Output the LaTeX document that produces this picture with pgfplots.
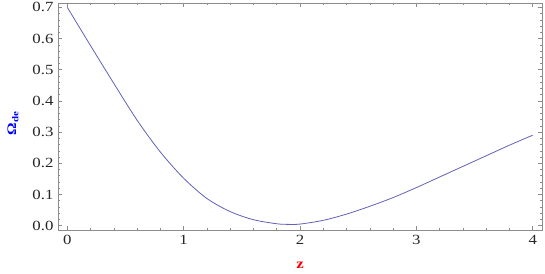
\documentclass[border=0pt]{standalone}
\usepackage{fontspec}
\setmainfont{Liberation Serif}[FakeStretch=1.2]
\usepackage{pgfplots}
\pgfplotsset{compat=1.18}
\definecolor{framegray}{rgb}{0.55,0.55,0.55}
\definecolor{curve}{rgb}{0.38,0.38,0.72}
\begin{document}
\begin{tikzpicture}
\path[use as bounding box] (-58pt,-43pt) rectangle (487pt,230pt);
\begin{axis}[
  scale only axis,
  width=484pt, height=227pt,
  xmin=-0.08, xmax=4.08,
  ymin=-0.014, ymax=0.714,
  axis line style={framegray, line width=0.6pt},
  xtick={0,1,2,3,4},
  ytick={0,0.1,0.2,0.3,0.4,0.5,0.6,0.7},
  minor x tick num=4,
  minor y tick num=4,
  tick style={framegray, line width=0.5pt},
  major tick length=4pt,
  minor tick length=2pt,
  tick align=inside,
  xtick pos=both, ytick pos=both,
  xticklabel pos=lower, yticklabel pos=left,
  /pgf/number format/assume math mode=true,
  /pgf/number format/.cd, fixed, fixed zerofill, precision=1, /pgfplots/.cd,
  xticklabel={\pgfmathprintnumber[precision=0,fixed zerofill=false]{\tick}},
  ticklabel style={font=\fontsize{14}{16}\selectfont, text=black!85},
  yticklabel style={xshift=-1pt},
  xticklabel style={yshift=-2pt},
  xlabel={\textbf{z}},
  xlabel style={at={(axis description cs:0.5,0)}, anchor=center, yshift=-35pt, text=red, font=\fontsize{14}{16}\selectfont},
  ylabel={\textbf{Ω\textsubscript{de}}},
  ylabel style={at={(axis description cs:-0.093,0.47)}, anchor=center, text=blue, font=\fontsize{13}{15}\selectfont},
]
\addplot[curve, line width=0.8pt, smooth] coordinates {
(0.0,0.700) (0.2,0.577) (0.4,0.456) (0.6,0.338) (0.8,0.236) (1.0,0.152)
(1.2,0.087) (1.4,0.045) (1.6,0.019) (1.8,0.006) (1.9,0.004) (2.0,0.005)
(2.2,0.017) (2.4,0.037) (2.6,0.062) (2.8,0.090) (3.0,0.122) (3.2,0.156)
(3.4,0.190) (3.6,0.224) (3.8,0.258) (4.0,0.290)
};
\end{axis}
\end{tikzpicture}
\end{document}
